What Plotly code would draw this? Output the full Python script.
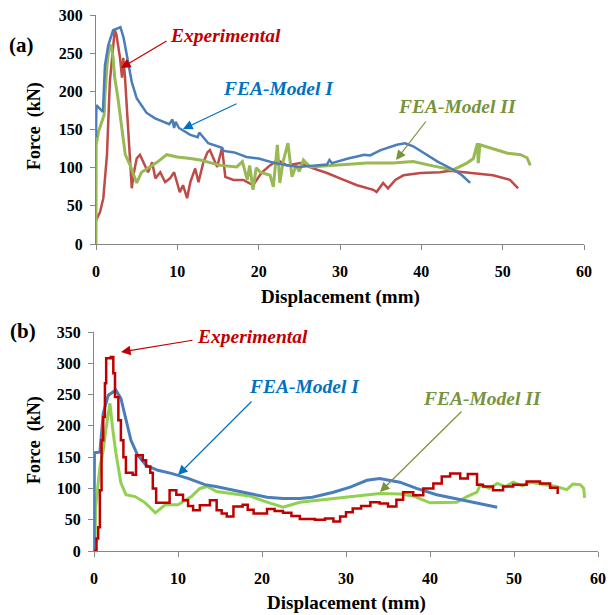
import plotly.graph_objects as go

# ---------------- (a) data ----------------
a_exp_x = [0, 0.5, 0.9, 1.35, 1.7, 2.1, 2.3, 2.5, 2.7, 2.95, 3.2, 3.35, 3.55, 3.8, 4.1, 4.4, 4.6, 5.0, 5.4, 5.8, 6.4, 6.9, 7.3, 7.9, 8.5, 9.1, 9.6, 10.3, 10.7, 11.2, 11.6, 12.2, 12.6, 13.2, 13.7, 14.0, 14.9, 15.5, 15.9, 16.9, 18.1, 19.3, 20.4, 21.4, 22.3, 23.5, 25.1, 26.7, 28.4, 30.0, 32.1, 34.1, 34.5, 35.3, 35.9, 36.8, 37.8, 39.9, 42.3, 43.5, 46.4, 48.8, 50.9, 51.9]
a_exp_y = [31, 42, 60, 117, 212, 265, 280, 275, 261, 244, 218, 244, 221, 178, 126, 73, 90, 112, 117, 107, 94, 107, 86, 94, 81, 86, 94, 68, 77, 60, 81, 99, 81, 107, 120, 123, 101, 126, 88, 84, 84, 77, 94, 103, 110, 103, 106, 99, 93, 86, 77, 71, 68, 80, 73, 84, 90, 93, 94, 96, 93, 90, 84, 73]

a_fea1_x = [0, 0.05, 0.4, 0.85, 1.1, 1.5, 2.1, 2.6, 3.0, 3.4, 3.8, 4.4, 5.0, 6.2, 7.2, 8.2, 9.0, 9.4, 9.6, 9.8, 10.2, 11.6, 12.5, 12.7, 13.8, 15.5, 15.7, 17, 18.5, 20, 22, 23.5, 25, 27, 28.4, 28.7, 29, 31, 33, 33.7, 35, 37, 38, 39, 40, 42, 44, 45, 46]
a_fea1_y = [140, 182, 178, 173, 234, 260, 280, 282, 284, 270, 248, 212, 191, 172, 165, 160, 157, 163, 152, 160, 152, 143, 140, 146, 132, 126, 122, 120, 114, 112, 106, 103, 101, 103, 104, 110, 106, 112, 117, 116, 123, 130, 132, 128, 121, 108, 97, 90, 80]

a_fea2_x = [0, 0.02, 0.3, 0.7, 1.0, 1.1, 1.35, 1.6, 1.85, 2.1, 2.3, 2.7, 3.2, 3.6, 4.2, 4.8, 5.0, 5.6, 6.4, 7.5, 8.7, 10.0, 11.6, 12.8, 15.3, 17.3, 18.0, 18.6, 18.9, 19.3, 19.7, 20.2, 21.4, 21.8, 22.3, 22.6, 23.0, 23.6, 24.1, 24.6, 25.0, 25.5, 26.3, 29.2, 33.3, 36.5, 39.0, 41.1, 43.9, 45.6, 46.4, 46.9, 47.0, 47.2, 48.5, 50.6, 52.2, 53.0, 53.4]
a_fea2_y = [0, 130, 147, 160, 169, 195, 234, 256, 261, 244, 218, 191, 147, 117, 103, 86, 80, 94, 99, 107, 117, 114, 112, 110, 103, 101, 108, 84, 103, 71, 100, 94, 90, 75, 130, 80, 108, 132, 88, 103, 95, 110, 101, 103, 106, 106, 108, 103, 97, 106, 112, 132, 106, 130, 126, 119, 117, 113, 103]

# ---------------- (b) data ----------------
b_exp_x = [0, 0.3, 0.5, 0.7, 0.9, 1.1, 1.3, 1.45, 2.0, 2.3, 2.5, 2.9, 3.2, 3.5, 3.8, 4.6, 5.0, 5.8, 6.2, 6.7, 7.0, 7.4, 8.4, 9.0, 9.8, 10.6, 11.2, 11.8, 12.6, 13.8, 14.6, 15.2, 15.8, 16.6, 17.7, 18.3, 19.0, 20.6, 21.5, 22.5, 23.5, 24.5, 26.3, 27.5, 28.5, 29.3, 30.0, 30.8, 31.8, 32.9, 34.0, 35.0, 36.0, 36.8, 38.0, 39.2, 40.4, 41.4, 42.4, 43.6, 44.5, 45.6, 46.3, 47.5, 48.7, 49.9, 51.5, 53.1, 54.3, 55.2]
b_exp_y = [0, 20, 38, 97, 177, 214, 268, 308, 310, 284, 246, 209, 177, 150, 125, 122, 153, 145, 135, 125, 100, 77, 77, 97, 90, 81, 72, 65, 73, 81, 65, 60, 55, 71, 74, 66, 60, 67, 64, 61, 56, 51, 50, 52, 47, 55, 62, 68, 72, 78, 76, 71, 82, 94, 89, 100, 108, 119, 124, 116, 123, 106, 103, 97, 103, 106, 111, 108, 101, 91]

b_fea1_x = [0, 0.05, 0.7, 0.8, 1.1, 1.7, 2.6, 3.2, 3.8, 4.4, 5.2, 6.2, 7.6, 9.2, 11.2, 13.2, 14.5, 16.5, 18.5, 20.6, 22.5, 24.5, 26.0, 28.5, 30.5, 32.5, 34.0, 36.4, 38.4, 40.8, 43.9, 48.0]
b_fea1_y = [0, 157, 158, 173, 220, 249, 257, 244, 209, 177, 153, 137, 129, 124, 116, 106, 103, 97, 92, 86, 84, 84, 86, 94, 102, 113, 116, 110, 100, 90, 81, 70]

b_fea2_x = [0.1, 0.2, 0.7, 1.1, 1.4, 1.9, 2.2, 2.6, 3.2, 3.8, 4.9, 6.1, 7.3, 8.5, 10.0, 11.6, 12.6, 13.5, 14.6, 16.6, 18.5, 20.6, 22.5, 24.5, 26.5, 28.5, 32.5, 34.0, 36.4, 38.0, 40.0, 43.2, 44.4, 45.6, 46.0, 47.1, 48.0, 49.0, 49.9, 51.0, 52.0, 53.9, 55.0, 56.3, 57.0, 57.9, 58.3, 58.4]
b_fea2_y = [0, 70, 134, 161, 193, 236, 198, 157, 109, 90, 87, 77, 61, 74, 74, 87, 100, 103, 95, 92, 88, 78, 70, 78, 81, 84, 89, 92, 91, 88, 77, 78, 87, 94, 106, 100, 108, 103, 110, 104, 110, 106, 103, 98, 107, 106, 100, 85]

x_ticks = [0, 10, 20, 30, 40, 50, 60]
a_y_ticks = [0, 50, 100, 150, 200, 250, 300]
b_y_ticks = [0, 50, 100, 150, 200, 250, 300, 350]

FONT = "Liberation Serif"
OFF = 8                 # page body margin of the browser
W, H = 614 - OFF, 615 - OFF

fig = go.Figure()

def line(x, y, color, xa, ya, width=2.5, shape="linear"):
    fig.add_trace(go.Scatter(x=x, y=y, mode="lines", xaxis=xa, yaxis=ya,
                             line=dict(color=color, width=width, shape=shape),
                             showlegend=False, hoverinfo="skip"))

# (a)
line(a_exp_x, a_exp_y, "#BE4B48", "x", "y")
line(a_fea2_x, a_fea2_y, "#98B954", "x", "y", width=3)
line(a_fea1_x, a_fea1_y, "#4A7EBB", "x", "y")
# (b)
line(b_fea2_x, b_fea2_y, "#92D050", "x2", "y2", width=3)
line(b_fea1_x, b_fea1_y, "#4A7EBB", "x2", "y2", width=3)
line(b_exp_x, b_exp_y, "#C00000", "x2", "y2", width=2.5, shape="hv")

def px_x(p):
    return (p - OFF) / W

def px_y(p):
    return 1 - (p - OFF) / H

axis_common = dict(showgrid=False, zeroline=False, showline=True, linecolor="#868686",
                   linewidth=1, ticks="outside", ticklen=5, tickcolor="#868686",
                   automargin=False, ticklabeloverflow="allow",
                   tickfont=dict(family=FONT, size=16, color="black", weight="bold"))

fig.update_layout(
    width=W, height=H, margin=dict(l=0, r=0, t=0, b=0, pad=0),
    paper_bgcolor="white", plot_bgcolor="white",
    xaxis=dict(domain=[px_x(96), px_x(584)], range=[0, 60], tickvals=x_ticks,
               anchor="y", ticklabelstandoff=8, **axis_common),
    yaxis=dict(domain=[px_y(244), px_y(15)], range=[0, 300], tickvals=a_y_ticks,
               anchor="x", ticklabelstandoff=4, **axis_common),
    xaxis2=dict(domain=[px_x(94), px_x(598)], range=[0, 60], tickvals=x_ticks,
                anchor="y2", ticklabelstandoff=8, **axis_common),
    yaxis2=dict(domain=[px_y(551), px_y(332)], range=[0, 350], tickvals=b_y_ticks,
                anchor="x2", ticklabelstandoff=4, **axis_common),
)

ann = []

def text(t, x, y, size, color="black", italic=False, angle=0):
    ann.append(dict(text=t, x=px_x(x), y=px_y(y), xref="paper", yref="paper",
                    showarrow=False, xanchor="center", yanchor="middle", textangle=angle,
                    font=dict(family=FONT, size=size, color=color, weight="bold",
                              style="italic" if italic else "normal")))

def arrow(tail, head, color):
    ann.append(dict(text="", x=px_x(head[0]), y=px_y(head[1]), xref="paper", yref="paper",
                    ax=tail[0] - head[0], ay=tail[1] - head[1], axref="pixel", ayref="pixel",
                    showarrow=True, arrowhead=2, arrowsize=1.6, arrowwidth=1.2,
                    arrowcolor=color, standoff=0, startstandoff=0))

# panel labels and axis titles
text("(a)", 21, 45, 21)
text("(b)", 23, 331, 21)
text("Force  (kN)", 34, 126, 18, angle=-90)
text("Force  (kN)", 34, 440, 18, angle=-90)
text("Displacement (mm)", 340, 297, 19)
text("Displacement (mm)", 346, 603, 19)

# (a) callouts
text("Experimental", 225, 35, 19.5, "#C00000", True)
text("FEA-Model I", 278, 89, 19.5, "#0070C0", True)
text("FEA-Model II", 457, 106, 19.5, "#77933C", True)
arrow((168, 40), (121, 68), "#C00000")
arrow((238, 103), (183, 129), "#0070C0")
arrow((427, 120), (396, 160), "#77933C")

# (b) callouts
text("Experimental", 252, 337, 19.5, "#C00000", True)
text("FEA-Model I", 304, 386, 19.5, "#0070C0", True)
text("FEA-Model II", 482, 398, 19.5, "#77933C", True)
arrow((194, 340), (121, 352), "#C00000")
arrow((253, 400), (178, 475), "#0070C0")
arrow((463, 410), (380, 492), "#77933C")

fig.update_layout(annotations=ann)
fig.write_html("out.html")
